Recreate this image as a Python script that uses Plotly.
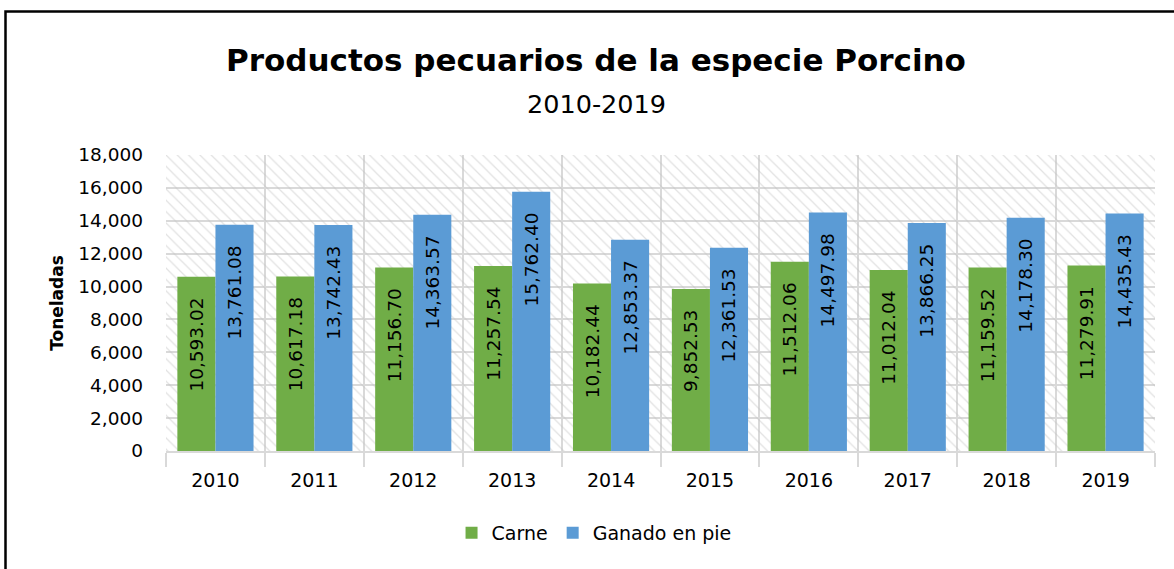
import plotly.graph_objects as go

years = ["2010", "2011", "2012", "2013", "2014", "2015", "2016", "2017", "2018", "2019"]
carne = [10593.02, 10617.18, 11156.70, 11257.54, 10182.44, 9852.53, 11512.06, 11012.04, 11159.52, 11279.91]
ganado = [13761.08, 13742.43, 14363.57, 15762.40, 12853.37, 12361.53, 14497.98, 13866.25, 14178.30, 14435.43]

FONT = "'DejaVu Sans', sans-serif"
GRID = "#d9d9d9"

W, H = 1174, 569
ML, MR, MT, MB = 166, 19, 155, 118
PW, PH = W - ML - MR, H - MT - MB

def px_x(p):
    return (p - ML) / PW

def px_y(p):
    return (H - MB - p) / PH

fig = go.Figure()

# hatched plot-area background (main hidden axes)
fig.add_trace(go.Bar(
    x=[0.5], y=[1], width=[1], xaxis="x", yaxis="y",
    marker=dict(color="rgba(0,0,0,0)", line=dict(width=0),
                pattern=dict(shape="\\", fgcolor="#c4c4c4", bgcolor="rgba(0,0,0,0)", size=8, solidity=0.16)),
    showlegend=False, hoverinfo="skip",
))

PAD = "<span style='color:rgba(0,0,0,0)'>0,</span>"
for name, vals, col in [("Carne", carne, "#70AD47"), ("Ganado en pie", ganado, "#5B9BD5")]:
    fig.add_trace(go.Bar(
        name=name, x=years, y=vals, xaxis="x2", yaxis="y2",
        marker=dict(color=col, line=dict(width=0)),
        texttemplate="%{y:,.2f}" + PAD, textposition="inside", insidetextanchor="end",
        textangle=-90, textfont=dict(size=18.5, color="black", family=FONT),
        constraintext="none", cliponaxis=False,
    ))

fig.update_layout(
    width=W, height=H,
    margin=dict(l=ML, r=MR, t=MT, b=MB),
    paper_bgcolor="white", plot_bgcolor="white",
    font=dict(family=FONT, size=19, color="black"),
    barmode="group", bargap=0.23, bargroupgap=0,
    xaxis=dict(range=[0, 1], visible=False, fixedrange=True),
    yaxis=dict(range=[0, 1], visible=False, fixedrange=True),
    xaxis2=dict(
        overlaying="x", type="category", tickson="boundaries",
        showgrid=True, gridcolor=GRID, gridwidth=2,
        showline=True, linecolor=GRID, linewidth=2,
        ticks="outside", ticklen=14, tickcolor=GRID, tickwidth=2,
        tickfont=dict(size=19), range=[-0.5, 9.5], ticklabelstandoff=11,
    ),
    yaxis2=dict(
        overlaying="y", range=[0, 18000], dtick=2000, tickformat=",d",
        showgrid=True, gridcolor=GRID, gridwidth=2, zeroline=False,
        tickfont=dict(size=18.5), ticks="", ticklabelstandoff=22,
        title=dict(text="<b>Toneladas</b>", font=dict(size=17), standoff=10),
    ),
    legend=dict(orientation="h", xref="container", x=0.506, xanchor="center",
                yref="container", y=(H - 533) / H, yanchor="middle",
                font=dict(size=19), traceorder="normal"),
)

fig.add_annotation(text="<b>Productos pecuarios de la especie Porcino</b>",
                   xref="paper", yref="paper", x=px_x(596), y=px_y(60),
                   xanchor="center", yanchor="middle", showarrow=False,
                   font=dict(size=31, family=FONT, color="black"))
fig.add_annotation(text="2010-2019",
                   xref="paper", yref="paper", x=px_x(596), y=px_y(104),
                   xanchor="center", yanchor="middle", showarrow=False,
                   font=dict(size=25.5, family=FONT, color="black"))

# outer border
fig.add_shape(type="rect", xref="paper", yref="paper",
              x0=px_x(5.5), x1=px_x(1185), y0=px_y(580), y1=px_y(11.5),
              line=dict(color="black", width=2.5), layer="above")

fig.write_html("out.html", config={"displayModeBar": False},
               post_script="document.body.style.margin='0';document.body.style.padding='0';")
